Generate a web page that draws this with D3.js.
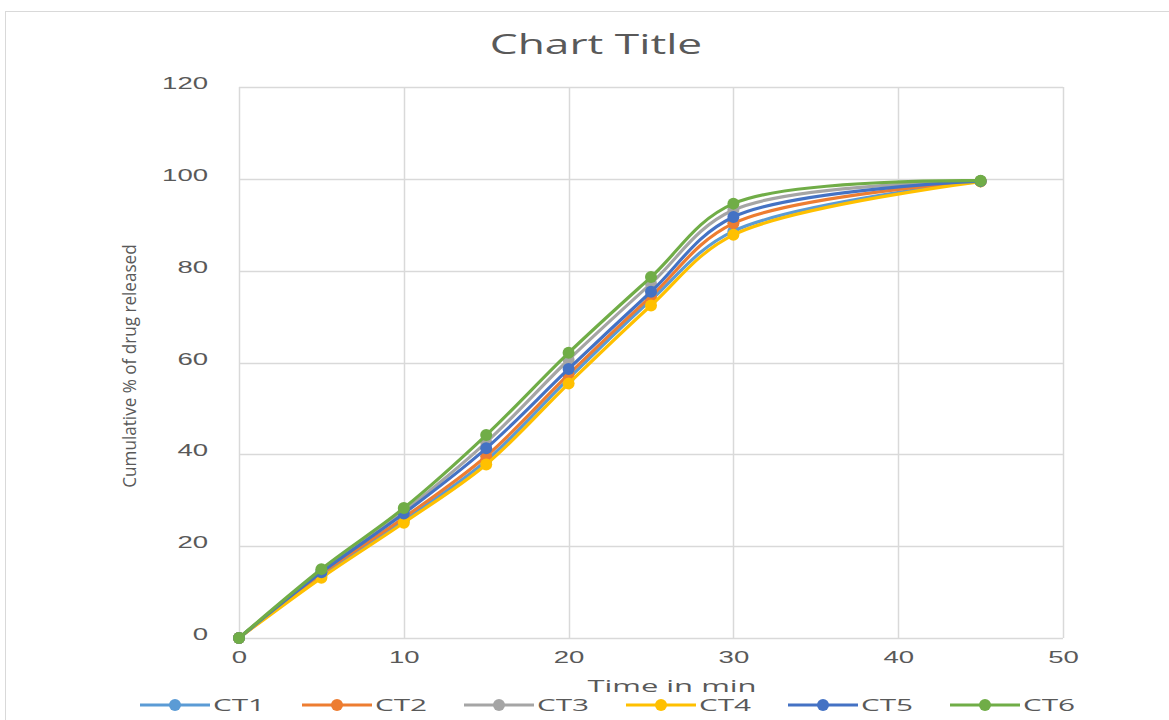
<!DOCTYPE html>
<html>
<head>
<meta charset="utf-8">
<script src="https://cdn.jsdelivr.net/npm/d3@7"></script>
<style>
  html, body { margin: 0; padding: 0; background: #fff; }
  svg { display: block; font-family: "Open Sans", "Liberation Sans", sans-serif; }
</style>
</head>
<body>
<svg id="chart" width="1169" height="720"></svg>
<script>
// Dissolution profiles: cumulative % drug released over time
const times = [0, 5, 10, 15, 20, 25, 30, 45];
const seriesNames = ["CT1", "CT2", "CT3", "CT4", "CT5", "CT6"];
const ct1 = [0, 13.6, 25.6, 38.6, 56.5, 73.6, 88.6, 99.5];
const ct2 = [0, 14.0, 26.2, 39.6, 57.4, 74.4, 90.3, 99.5];
const ct3 = [0, 14.6, 27.6, 42.6, 60.6, 77.2, 93.2, 99.5];
const ct4 = [0, 13.1, 25.1, 37.8, 55.4, 72.4, 87.8, 99.4];
const ct5 = [0, 14.3, 27.1, 41.3, 58.6, 75.4, 91.7, 99.5];
const ct6 = [0, 15.0, 28.3, 44.2, 62.1, 78.6, 94.6, 99.6];
const seriesValues = [ct1, ct2, ct3, ct4, ct5, ct6];
const colors = ["#5B9BD5", "#ED7D31", "#A5A5A5", "#FFC000", "#4472C4", "#70AD47"];
const xTicks = [0, 10, 20, 30, 40, 50];
const yTicks = [0, 20, 40, 60, 80, 100, 120];

const svg = d3.select("#chart");
const textColor = "#595959";

// widen text horizontally to the chart's proportions
function stretch(sel, k) {
  sel.each(function () {
    const L = this.getComputedTextLength();
    this.setAttribute("textLength", L * k);
    this.setAttribute("lengthAdjust", "spacingAndGlyphs");
  });
}

// chart frame
svg.append("rect")
  .attr("x", 5.5).attr("y", 11.5)
  .attr("width", 1300).attr("height", 900)
  .attr("fill", "#fff").attr("stroke", "#d9d9d9").attr("stroke-width", 1);

const plot = { left: 239, right: 1063, top: 87, bottom: 638 };
const x = d3.scaleLinear().domain([0, 50]).range([plot.left, plot.right]);
const y = d3.scaleLinear().domain([0, 120]).range([plot.bottom, plot.top]);

// gridlines
const grid = svg.append("g");
grid.selectAll("line.h").data(yTicks).join("line")
  .attr("x1", plot.left).attr("x2", plot.right)
  .attr("y1", d => Math.round(y(d)) + 0.5).attr("y2", d => Math.round(y(d)) + 0.5)
  .attr("stroke", "#d9d9d9").attr("stroke-width", 1.5);
grid.selectAll("line.v").data(xTicks).join("line")
  .attr("y1", plot.top).attr("y2", plot.bottom)
  .attr("x1", d => Math.round(x(d)) + 0.5).attr("x2", d => Math.round(x(d)) + 0.5)
  .attr("stroke", "#d9d9d9").attr("stroke-width", 1.5);

// axes
const xAxis = svg.append("g")
  .attr("transform", `translate(0,${plot.bottom + 8})`)
  .call(d3.axisBottom(x).tickValues(xTicks).tickSize(0).tickPadding(6));
xAxis.select(".domain").remove();
xAxis.selectAll("text").attr("fill", textColor).attr("font-size", 16)
  .call(stretch, 1.72);

const yAxis = svg.append("g")
  .attr("transform", `translate(${plot.left - 31},0)`)
  .call(d3.axisLeft(y).tickValues(yTicks).tickSize(0).tickPadding(0));
yAxis.select(".domain").remove();
yAxis.selectAll("text").attr("fill", textColor).attr("font-size", 16)
  .attr("dy", "0.1em")
  .call(stretch, 1.72);

// title
svg.append("text")
  .attr("x", 596).attr("y", 54)
  .attr("text-anchor", "middle")
  .attr("fill", textColor).attr("font-size", 27)
  .text("Chart Title")
  .call(stretch, 1.64);

// axis titles
svg.append("text")
  .attr("x", 672).attr("y", 692)
  .attr("text-anchor", "middle")
  .attr("fill", textColor).attr("font-size", 17)
  .text("Time in min")
  .call(stretch, 1.82);

svg.append("text")
  .attr("transform", `translate(136,366) rotate(-90)`)
  .attr("text-anchor", "middle")
  .attr("fill", textColor).attr("font-size", 18)
  .text("Cumulative % of drug released")
  .call(stretch, 0.95);

// series lines and markers
const line = d3.line()
  .x((d, i) => x(times[i]))
  .y(d => y(d))
  .curve(d3.curveCatmullRom.alpha(0.5));

seriesValues.forEach((vals, s) => {
  const g = svg.append("g");
  g.append("path")
    .datum(vals)
    .attr("d", line)
    .attr("fill", "none")
    .attr("stroke", colors[s])
    .attr("stroke-width", 3.2)
    .attr("stroke-linejoin", "round");
  g.selectAll("circle").data(vals).join("circle")
    .attr("cx", (d, i) => x(times[i]))
    .attr("cy", d => y(d))
    .attr("r", 6)
    .attr("fill", colors[s]);
});

// legend
const legendStart = 140, legendStep = 162, legendY = 705;
const legend = svg.append("g");
seriesNames.forEach((name, s) => {
  const lx = legendStart + s * legendStep;
  legend.append("line")
    .attr("x1", lx).attr("x2", lx + 70)
    .attr("y1", legendY).attr("y2", legendY)
    .attr("stroke", colors[s]).attr("stroke-width", 3.2);
  legend.append("circle")
    .attr("cx", lx + 35).attr("cy", legendY).attr("r", 6)
    .attr("fill", colors[s]);
  legend.append("text")
    .attr("x", lx + 73).attr("y", legendY + 6)
    .attr("fill", textColor).attr("font-size", 17)
    .text(name)
    .call(stretch, 1.75);
});
</script>
</body>
</html>
